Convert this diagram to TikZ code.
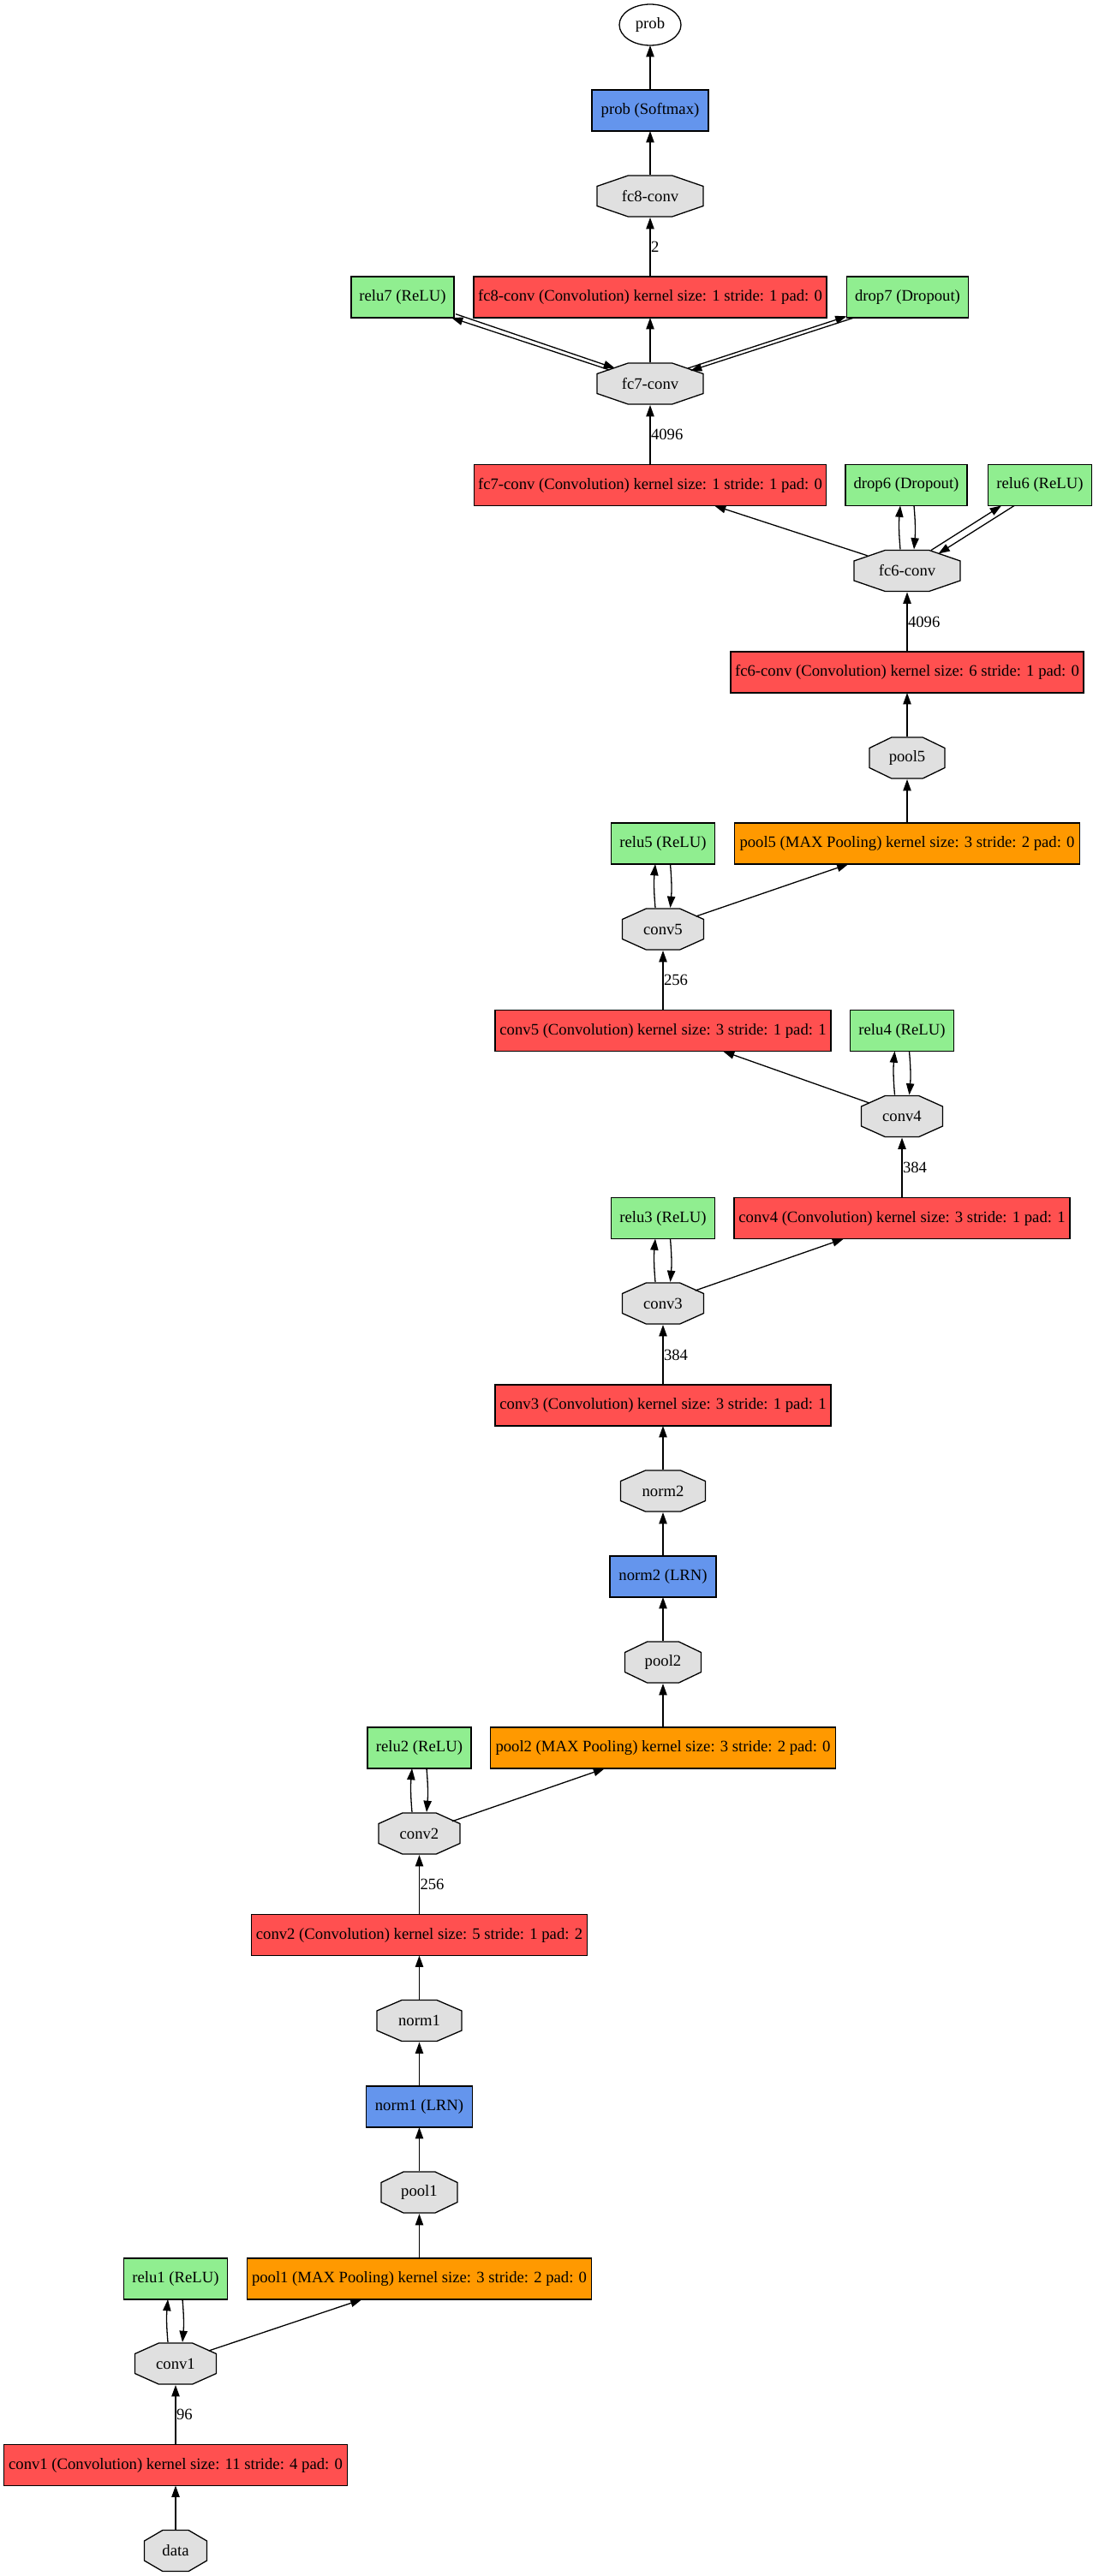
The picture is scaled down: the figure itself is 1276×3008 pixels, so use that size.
\documentclass[tikz,border=0pt]{standalone}
\usepackage{fontspec}
\setmainfont{Liberation Serif}
\usetikzlibrary{shapes.geometric,arrows.meta,calc}
\definecolor{convc}{HTML}{FF5050}
\definecolor{poolc}{HTML}{FF9900}
\definecolor{reluc}{HTML}{90EE90}
\definecolor{lrnc}{HTML}{6495ED}
\definecolor{blobc}{HTML}{E0E0E0}
\newcommand\gvfont{\fontsize{18.67}{22}\selectfont}
\begin{document}
\begin{tikzpicture}[x=1pt,y=1pt,
  every node/.style={font=\gvfont, inner sep=0pt, outer sep=0pt},
  lay/.style={rectangle, draw=black, line width=1.3pt, minimum height=48, minimum width=#1},
  convbox/.style={lay=#1, fill=convc},
  poolbox/.style={lay=#1, fill=poolc},
  relubox/.style={lay=#1, fill=reluc},
  lrnbox/.style={lay=#1, fill=lrnc},
  oct/.style={rectangle, minimum width=#1+2, minimum height=50,
    path picture={
      \pgfmathsetmacro\chx{0.293*(#1)+1}
      \filldraw[fill=blobc, draw=black, line width=1.3pt]
        ($(path picture bounding box.north west)+(\chx,-1)$) --
        ($(path picture bounding box.north east)+(-\chx,-1)$) --
        ($(path picture bounding box.north east)+(-1,-13.5)$) --
        ($(path picture bounding box.south east)+(-1,13.5)$) --
        ($(path picture bounding box.south east)+(-\chx,1)$) --
        ($(path picture bounding box.south west)+(\chx,1)$) --
        ($(path picture bounding box.south west)+(1,13.5)$) --
        ($(path picture bounding box.north west)+(1,-13.5)$) -- cycle;
    }},
  conn/.style={draw=black, line width=1.3pt, -{Triangle[length=13.3pt,width=9.3pt]}},
  lab/.style={anchor=west, inner sep=1pt}
]
\useasboundingbox (0,0) rectangle (1276,-3008);

% ---- nodes ----
\node[oct=73] (data) at (205,-2978.5) {data};
\node[convbox=401] (lconv1) at (205,-2878.5) {conv1 (Convolution) kernel size: 11 stride: 4 pad: 0};
\node[oct=95] (conv1) at (205,-2760) {conv1};
\node[relubox=121] (lrelu1) at (205,-2661) {relu1 (ReLU)};
\node[poolbox=402] (lpool1) at (489.5,-2661) {pool1 (MAX Pooling) kernel size: 3 stride: 2 pad: 0};
\node[oct=89] (pool1) at (489.5,-2560) {pool1};
\node[lrnbox=124] (lnorm1) at (489.5,-2460) {norm1 (LRN)};
\node[oct=99] (norm1) at (489.5,-2359.5) {norm1};
\node[convbox=392] (lconv2) at (489.5,-2259.5) {conv2 (Convolution) kernel size: 5 stride: 1 pad: 2};
\node[oct=95] (conv2) at (489.5,-2141) {conv2};
\node[relubox=121] (lrelu2) at (489.5,-2041) {relu2 (ReLU)};
\node[poolbox=403] (lpool2) at (774,-2041) {pool2 (MAX Pooling) kernel size: 3 stride: 2 pad: 0};
\node[oct=89] (pool2) at (774,-1941) {pool2};
\node[lrnbox=124] (lnorm2) at (774,-1841) {norm2 (LRN)};
\node[oct=99] (norm2) at (774,-1741) {norm2};
\node[convbox=392] (lconv3) at (774,-1641) {conv3 (Convolution) kernel size: 3 stride: 1 pad: 1};
\node[oct=95] (conv3) at (774,-1522) {conv3};
\node[relubox=121] (lrelu3) at (774,-1422.5) {relu3 (ReLU)};
\node[convbox=392] (lconv4) at (1053,-1422.5) {conv4 (Convolution) kernel size: 3 stride: 1 pad: 1};
\node[oct=95] (conv4) at (1053,-1303.5) {conv4};
\node[relubox=121] (lrelu4) at (1053,-1203.5) {relu4 (ReLU)};
\node[convbox=392] (lconv5) at (774,-1203.5) {conv5 (Convolution) kernel size: 3 stride: 1 pad: 1};
\node[oct=95] (conv5) at (774,-1085) {conv5};
\node[relubox=121] (lrelu5) at (774,-985) {relu5 (ReLU)};
\node[poolbox=403] (lpool5) at (1059,-985) {pool5 (MAX Pooling) kernel size: 3 stride: 2 pad: 0};
\node[oct=88] (pool5) at (1059,-885) {pool5};
\node[convbox=412] (lfc6) at (1059,-785) {fc6-conv (Convolution) kernel size: 6 stride: 1 pad: 0};
\node[oct=124] (fc6) at (1059,-666.5) {fc6-conv};
\node[relubox=142] (ldrop6) at (1058,-566.5) {drop6 (Dropout)};
\node[relubox=121] (lrelu6) at (1214,-566.5) {relu6 (ReLU)};
\node[convbox=411] (lfc7) at (759,-566.5) {fc7-conv (Convolution) kernel size: 1 stride: 1 pad: 0};
\node[oct=124] (fc7) at (759,-448) {fc7-conv};
\node[relubox=120] (lrelu7) at (470,-347) {relu7 (ReLU)};
\node[convbox=412] (lfc8) at (759,-347) {fc8-conv (Convolution) kernel size: 1 stride: 1 pad: 0};
\node[relubox=142] (ldrop7) at (1059.5,-347) {drop7 (Dropout)};
\node[oct=124] (fc8) at (759,-229) {fc8-conv};
\node[lrnbox=136] (lprob) at (759,-129) {prob (Softmax)};
\node[ellipse, draw=black, line width=1.3pt, fill=white, minimum width=72, minimum height=48] (prob) at (759,-29) {prob};

% ---- connectors ----
\draw[conn] (data) -- (lconv1);
\draw[conn] (lconv1) -- node[lab]{96} (conv1);
\draw[conn] ([xshift=-9pt]conv1.north) to[bend left=5] ([xshift=-9pt]lrelu1.south);
\draw[conn] ([xshift=8pt]lrelu1.south) to[bend left=5] ([xshift=8pt]conv1.north);
\draw[conn] ($(conv1)+(38.6,15)$) -- ([xshift=-67pt]lpool1.south);
\draw[conn] (lpool1) -- (pool1);
\draw[conn] (pool1) -- (lnorm1);
\draw[conn] (lnorm1) -- (norm1);
\draw[conn] (norm1) -- (lconv2);
\draw[conn] (lconv2) -- node[lab]{256} (conv2);
\draw[conn] ([xshift=-8.5pt]conv2.north) to[bend left=5] ([xshift=-8.5pt]lrelu2.south);
\draw[conn] ([xshift=8.5pt]lrelu2.south) to[bend left=5] ([xshift=8.5pt]conv2.north);
\draw[conn] ($(conv2)+(38.4,14.3)$) -- ([xshift=-68pt]lpool2.south);
\draw[conn] (lpool2) -- (pool2);
\draw[conn] (pool2) -- (lnorm2);
\draw[conn] (lnorm2) -- (norm2);
\draw[conn] (norm2) -- (lconv3);
\draw[conn] (lconv3) -- node[lab]{384} (conv3);
\draw[conn] ([xshift=-9pt]conv3.north) to[bend left=5] ([xshift=-9pt]lrelu3.south);
\draw[conn] ([xshift=8.5pt]lrelu3.south) to[bend left=5] ([xshift=8.5pt]conv3.north);
\draw[conn] ($(conv3)+(37.5,15)$) -- ([xshift=-68pt]lconv4.south);
\draw[conn] (lconv4) -- node[lab]{384} (conv4);
\draw[conn] ([xshift=-8.5pt]conv4.north) to[bend left=5] ([xshift=-8.5pt]lrelu4.south);
\draw[conn] ([xshift=8.5pt]lrelu4.south) to[bend left=5] ([xshift=8.5pt]conv4.north);
\draw[conn] ($(conv4)+(-38,15.5)$) -- ([xshift=70pt]lconv5.south);
\draw[conn] (lconv5) -- node[lab]{256} (conv5);
\draw[conn] ([xshift=-9pt]conv5.north) to[bend left=5] ([xshift=-9pt]lrelu5.south);
\draw[conn] ([xshift=8.5pt]lrelu5.south) to[bend left=5] ([xshift=8.5pt]conv5.north);
\draw[conn] ($(conv5)+(38.5,15)$) -- ([xshift=-68.6pt]lpool5.south);
\draw[conn] (lpool5) -- (pool5);
\draw[conn] (pool5) -- (lfc6);
\draw[conn] (lfc6) -- node[lab]{4096} (fc6);
\draw[conn] ([xshift=-8pt]fc6.north) to[bend left=5] ([xshift=-7pt]ldrop6.south);
\draw[conn] ([xshift=9pt]ldrop6.south) to[bend left=5] ([xshift=8pt]fc6.north);
\draw[conn] ($(fc6)+(28,24)$) -- ([xshift=-45pt]lrelu6.south);
\draw[conn] ([xshift=-30pt]lrelu6.south) -- ($(fc6)+(36.5,20)$);
\draw[conn] ($(fc6)+(-46.4,17.7)$) -- ([xshift=75pt]lfc7.south);
\draw[conn] (lfc7) -- node[lab]{4096} (fc7);
\draw[conn] ($(fc7)+(-47.5,16)$) -- ([xshift=57pt]lrelu7.south);
\draw[conn] ($(lrelu7)+(62,-19.7)$) -- ($(fc7)+(-41,18)$);
\draw[conn] ($(fc7)+(44,18)$) -- ($(ldrop7)+(-71,-22.3)$);
\draw[conn] ([xshift=-62.5pt]ldrop7.south) -- ($(fc7)+(47,15)$);
\draw[conn] (fc7) -- (lfc8);
\draw[conn] (lfc8) -- node[lab]{2} (fc8);
\draw[conn] (fc8) -- (lprob);
\draw[conn] (lprob) -- (prob);
\end{tikzpicture}
\end{document}
